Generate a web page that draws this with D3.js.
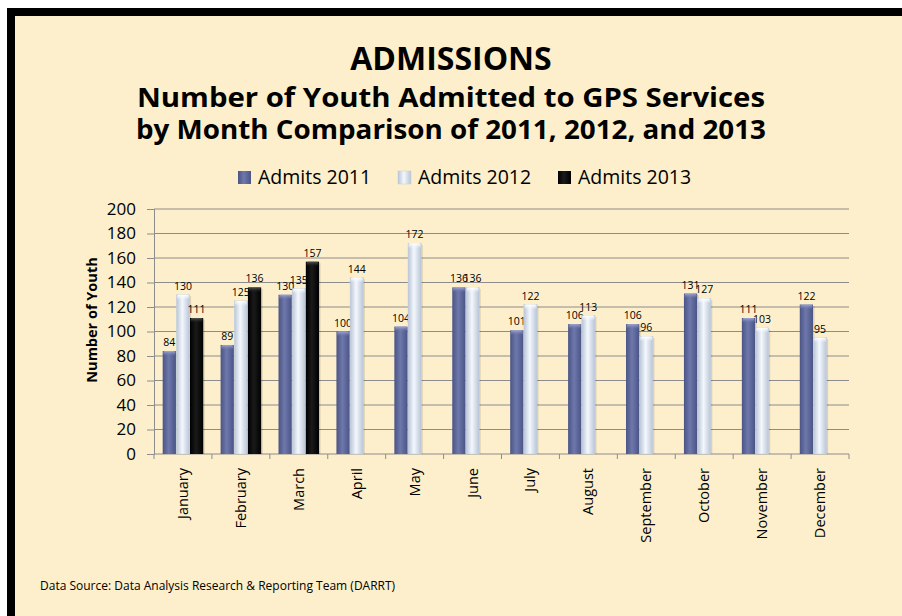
<!DOCTYPE html>
<html>
<head>
<meta charset="utf-8">
<script src="https://cdn.jsdelivr.net/npm/d3@7"></script>
<style>
  html, body { margin: 0; padding: 0; background: #ffffff; }
  svg { display: block; }
</style>
</head>
<body>
<svg id="chart" width="902" height="616"></svg>
<script>
// Monthly admissions
const months = ["January", "February", "March", "April", "May", "June",
                "July", "August", "September", "October", "November", "December"];
const seriesNames = ["Admits 2011", "Admits 2012", "Admits 2013"];
const admits2011 = [84, 89, 130, 100, 104, 136, 101, 106, 106, 131, 111, 122];
const admits2012 = [130, 125, 135, 144, 172, 136, 122, 113, 96, 127, 103, 95];
const admits2013 = [111, 136, 157, null, null, null, null, null, null, null, null, null];
const yTicks = [0, 20, 40, 60, 80, 100, 120, 140, 160, 180, 200];

const seriesValues = [admits2011, admits2012, admits2013];

const svg = d3.select("#chart");
const W = 902, H = 616;
const FONT = "'Open Sans', 'Noto Sans', sans-serif";

// page background and black frame edges
svg.append("rect").attr("x", 7).attr("y", 8).attr("width", W - 7).attr("height", H - 8)
  .attr("fill", "#fdefcb");
svg.append("rect").attr("x", 7).attr("y", 8).attr("width", W - 7).attr("height", 8).attr("fill", "#000");
svg.append("rect").attr("x", 7).attr("y", 8).attr("width", 8).attr("height", H - 8).attr("fill", "#000");

// gradients for the cylinder-like bars
const defs = svg.append("defs");
const styles = [
  { edge: "#4a5485", mid: "#6e78ab", cap: "#a0a8d8" },
  { edge: "#b8c4d6", mid: "#f4f8fd", cap: "#ffffff" },
  { edge: "#000000", mid: "#1a1a1a", cap: "#555555" }
];
styles.forEach((s, i) => {
  const g = defs.append("linearGradient").attr("id", "bar" + i)
    .attr("x1", "0%").attr("x2", "100%").attr("y1", "0%").attr("y2", "0%");
  g.append("stop").attr("offset", "0%").attr("stop-color", s.edge);
  g.append("stop").attr("offset", "45%").attr("stop-color", s.mid);
  g.append("stop").attr("offset", "100%").attr("stop-color", s.edge);
  const c = defs.append("linearGradient").attr("id", "cap" + i)
    .attr("x1", "0%").attr("x2", "0%").attr("y1", "0%").attr("y2", "100%");
  c.append("stop").attr("offset", "0%").attr("stop-color", s.cap);
  c.append("stop").attr("offset", "100%").attr("stop-color", s.mid).attr("stop-opacity", 0);
});

// titles
svg.append("text").attr("x", 451).attr("y", 70).attr("text-anchor", "middle")
  .attr("font-family", FONT).attr("font-weight", "bold").attr("font-size", 32)
  .text("ADMISSIONS");
svg.append("text").attr("x", 451).attr("y", 107).attr("text-anchor", "middle")
  .attr("font-family", FONT).attr("font-weight", "bold").attr("font-size", 26)
  .attr("textLength", 628).attr("lengthAdjust", "spacingAndGlyphs")
  .text("Number of Youth Admitted to GPS Services");
svg.append("text").attr("x", 451).attr("y", 139).attr("text-anchor", "middle")
  .attr("font-family", FONT).attr("font-weight", "bold").attr("font-size", 26)
  .attr("textLength", 630).attr("lengthAdjust", "spacingAndGlyphs")
  .text("by Month Comparison of 2011, 2012, and 2013");

// legend
const legendX = [238, 398, 558];
seriesNames.forEach((name, i) => {
  const lg = svg.append("g").attr("transform", `translate(${legendX[i]},171)`);
  lg.append("rect").attr("width", 13).attr("height", 13).attr("fill", `url(#bar${i})`)
    .attr("stroke", i === 1 ? "#c4cfdf" : "none").attr("stroke-width", 0.5);
  lg.append("text").attr("x", 20).attr("y", 13)
    .attr("font-family", FONT).attr("font-size", 19.5).text(name);
});

// plot area
const plotLeft = 154, plotRight = 849, plotTop = 209, plotBottom = 454;
const x0 = d3.scaleBand().domain(months).range([plotLeft, plotRight]).padding(0);
const x1 = d3.scaleBand().domain(d3.range(3))
  .range([x0.bandwidth() * 0.15, x0.bandwidth() * 0.85]).paddingInner(0.03);
const y = d3.scaleLinear().domain([0, 200]).range([plotBottom, plotTop]);

// gridlines
svg.append("g").selectAll("line").data(yTicks.filter(t => t > 0)).join("line")
  .attr("x1", plotLeft).attr("x2", plotRight)
  .attr("y1", d => y(d)).attr("y2", d => y(d))
  .attr("stroke", "#8c8c8c").attr("stroke-width", 1);

// y axis
const yAxis = svg.append("g").attr("transform", `translate(${plotLeft},0)`)
  .call(d3.axisLeft(y).tickValues(yTicks).tickSize(7).tickPadding(11));
yAxis.select(".domain").attr("stroke", "#8c8c8c");
yAxis.selectAll(".tick line").attr("stroke", "#8c8c8c");
yAxis.selectAll(".tick text").attr("font-family", FONT).attr("font-size", 17).attr("fill", "#000");

svg.append("text")
  .attr("transform", `translate(97,320) rotate(-90)`)
  .attr("text-anchor", "middle").attr("font-family", FONT).attr("font-weight", "bold")
  .attr("font-size", 14.5).text("Number of Youth");

// x axis with ticks at month boundaries
const xAxisG = svg.append("g");
xAxisG.append("line").attr("x1", plotLeft).attr("x2", plotRight)
  .attr("y1", plotBottom).attr("y2", plotBottom).attr("stroke", "#8c8c8c");
const boundaries = months.map(m => x0(m)).concat([plotRight]);
xAxisG.selectAll("line.tk").data(boundaries).join("line").attr("class", "tk")
  .attr("x1", d => d).attr("x2", d => d).attr("y1", plotBottom).attr("y2", plotBottom + 5)
  .attr("stroke", "#8c8c8c");
xAxisG.selectAll("text").data(months).join("text")
  .attr("transform", d => `translate(${x0(d) + x0.bandwidth() / 2 + 5},${plotBottom + 14}) rotate(-90)`)
  .attr("text-anchor", "end").attr("font-family", FONT).attr("font-size", 14.5)
  .text(d => d);

// bars with their value labels, series by series
seriesValues.forEach((vals, si) => {
  const data = months.map((m, i) => ({ m, v: vals[i] })).filter(d => d.v != null);
  const g = svg.append("g");
  const bx = d => x0(d.m) + x1(si);
  const bw = x1.bandwidth();
  // soft shadow
  g.selectAll("rect.sh").data(data).join("rect").attr("class", "sh")
    .attr("x", d => bx(d) + 1.5).attr("y", d => y(d.v) + 1.5)
    .attr("width", bw).attr("height", d => plotBottom - y(d.v) - 1.5)
    .attr("fill", "#000").attr("opacity", 0.12);
  g.selectAll("rect.bar").data(data).join("rect").attr("class", "bar")
    .attr("x", bx).attr("y", d => y(d.v))
    .attr("width", bw).attr("height", d => plotBottom - y(d.v))
    .attr("fill", `url(#bar${si})`)
    .attr("stroke", si === 1 ? "#c7d1e0" : "none").attr("stroke-width", 0.5);
  g.selectAll("rect.cap").data(data).join("rect").attr("class", "cap")
    .attr("x", d => bx(d) + 0.5).attr("y", d => y(d.v))
    .attr("width", bw - 1).attr("height", 5)
    .attr("rx", 2)
    .attr("fill", `url(#cap${si})`);
  g.selectAll("text").data(data).join("text")
    .attr("x", d => bx(d) + bw / 2).attr("y", d => y(d.v) - 5)
    .attr("text-anchor", "middle").attr("font-family", FONT).attr("font-size", 10.5)
    .attr("fill", "#000").text(d => d.v);
});

// source note
svg.append("text").attr("x", 40).attr("y", 590)
  .attr("font-family", FONT).attr("font-size", 12).text("Data Source: Data Analysis Research & Reporting Team (DARRT)");
</script>
</body>
</html>
